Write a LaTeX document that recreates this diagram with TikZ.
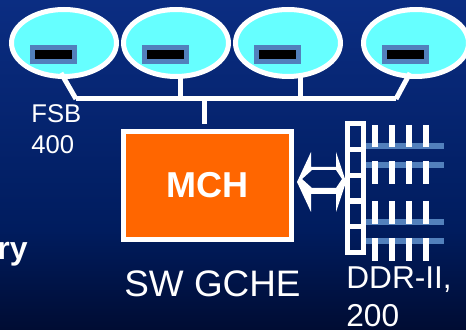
\documentclass[tikz,border=0pt]{standalone}
\usepackage{fontspec}
\setmainfont{Liberation Sans}
\usetikzlibrary{positioning,shapes.geometric}
\definecolor{navytop}{HTML}{0B2D82}
\definecolor{navymid}{HTML}{001C5E}
\definecolor{navylow}{HTML}{000C33}
\definecolor{cpufill}{HTML}{66FFFF}
\definecolor{chipblue}{HTML}{5280BC}
\definecolor{mchfill}{HTML}{FF6600}
\tikzset{%
	cpu/.style     = {draw=white, fill=cpufill, ellipse, line width=0.1cm, inner sep=0pt, minimum width=2.1cm, minimum height=1.34cm},
	chip/.style    = {draw=chipblue, fill=black, line width=0.1cm, inner sep=0pt, minimum width=0.84cm, minimum height=0.28cm},
	mch/.style     = {draw=white, fill=mchfill, line width=0.1cm, inner sep=0pt, minimum width=3.36cm, minimum height=2.16cm, text=white, font=\fontsize{20.5}{24}\selectfont\bfseries},
	slot/.style    = {draw=white, line width=0.1cm, inner sep=0pt, minimum width=0.32cm, minimum height=0.52cm},
	wire/.style    = {draw=white, line width=0.1cm},
	pin/.style     = {draw=white, line width=0.115cm},
	dimm/.style    = {draw=chipblue, line width=0.11cm},
	label/.style   = {text=white, inner sep=0pt, anchor=base west},
}
\begin{document}
\begin{tikzpicture}[x=0.02cm,y=-0.02cm]
	\useasboundingbox (0,0) rectangle (466,330);
	\shade[top color=navytop, bottom color=navymid] (0,0) rectangle (466,230);
	\shade[top color=navymid, bottom color=navylow] (0,230) rectangle (466,330);
	
	\coordinate (busleft) at (76,99);
	\coordinate (busright) at (396,99);
	\coordinate (tapleft) at (61,73);
	\coordinate (tapright) at (410,73);
	\coordinate (busdrop) at (204,99);
	\coordinate (mchstub) at (204,124.5);
	
	\node[mch] (mch) at (207.5,185.5) {MCH};
	
	\draw[wire] (busleft) -- (busright);
	\draw[wire] (busdrop) -- (mchstub);
	\draw[wire] (180.5,99) -- (180.5,70);
	\draw[wire] (300,99) -- (300,70);
	
	\foreach \cx/\name in {64/a,176/b,288/c,416/d} {
		\node[cpu] (cpu\name) at (\cx,43) {};
		\node[chip] (chip\name) at (\cx-10.5,54.5) {};
	}
	\draw[wire] (tapleft) -- (busleft);
	\draw[wire] (tapright) -- (busright);
	
	% memory
	\foreach \y in {146,165,222,241} \draw[dimm] (366,\y) -- (444,\y);
	\foreach \x in {375,392,409,426} {
		\foreach \a/\b in {125/147,161/184,201/224,238/261} \draw[pin] (\x,\a) -- (\x,\b);
	}
	\foreach \n [evaluate=\n as \ny using 137+25.6*\n] in {0,...,4} \node[slot] (slot\n) at (355.5,\ny) {};
	
	\fill[white,even odd rule] (297,182) -- (311,152) -- (311,167) -- (336,167) -- (336,152) -- (346,182) -- (336,212) -- (336,194) -- (311,194) -- (311,212) -- cycle
		(302,179) -- (312,170) -- (336,170) -- (342,179) -- (336,188) -- (312,188) -- cycle;
	
	\node[label, font=\fontsize{14.6}{14.6}\selectfont] (fsb) at (31,123) {FSB};
	\node[label, font=\fontsize{14.6}{14.6}\selectfont] (fsbspeed) at (31,154) {400};
	\node[label, font=\fontsize{21}{21}\selectfont] (gche) at (124,297) {SW GCHE};
	\node[label, font=\fontsize{18}{18}\selectfont] (ddr) at (346,289) {DDR-II,};
	\node[label, font=\fontsize{18}{18}\selectfont] (ddrspeed) at (346,327) {200};
	\node[label, anchor=base east, font=\fontsize{18.2}{18.2}\selectfont\bfseries] (cut) at (28,260) {ry};
\end{tikzpicture}
\end{document}
